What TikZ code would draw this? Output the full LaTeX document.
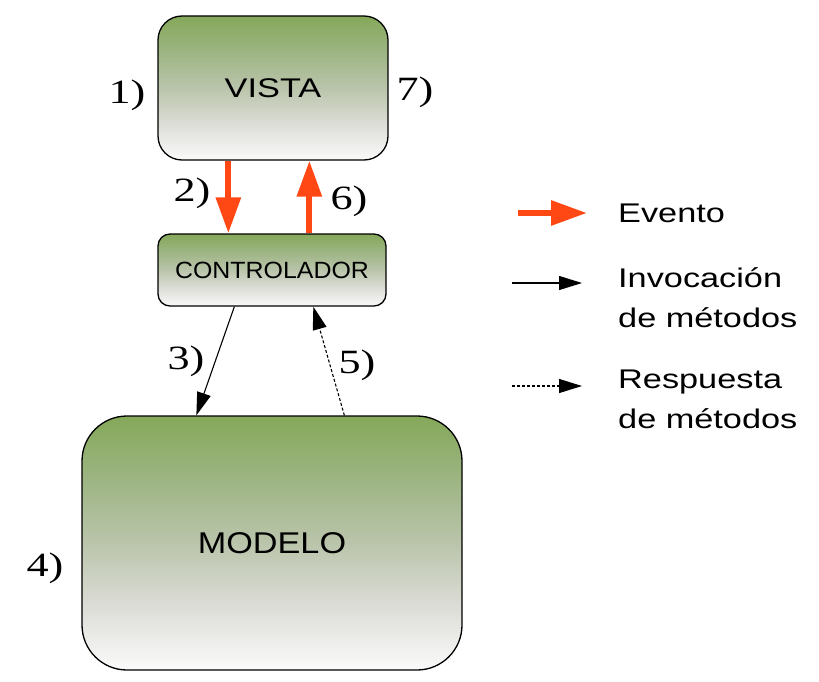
\documentclass[tikz,border=0pt]{standalone}
\usepackage{fontspec}
\usetikzlibrary{arrows.meta}
\newfontfamily\sansA[FakeStretch=1.27]{Liberation Sans}
\newfontfamily\sansB[FakeStretch=1.06]{Liberation Sans}
\newfontfamily\sansC[FakeStretch=1.14]{Liberation Sans}
\newfontfamily\serifw[FakeStretch=1.3]{Liberation Serif}
\definecolor{evred}{RGB}{255,72,20}
\pgfdeclareverticalshading{boxshade}{100bp}{%
  rgb(0bp)=(0.98,0.98,0.98);
  rgb(25bp)=(0.98,0.98,0.98);
  rgb(37bp)=(0.87,0.87,0.85);
  rgb(50bp)=(0.73,0.77,0.67);
  rgb(62bp)=(0.62,0.71,0.52);
  rgb(75bp)=(0.52,0.66,0.35);
  rgb(100bp)=(0.52,0.66,0.35)}
\tikzset{
  box/.style={draw=black, line width=1.3pt, shading=boxshade, inner sep=0pt},
  lbl/.style={font=\fontsize{34}{34}\selectfont\serifw, inner sep=0pt},
  legtext/.style={font=\fontsize{27}{40}\selectfont\sansA, inner sep=0pt, anchor=base west},
  evento/.style={draw=evred, line width=6pt, -{Triangle[length=36pt,width=24pt]}},
  invoc/.style={draw=black, line width=1.1pt, -{Triangle[length=23pt,width=14pt]}},
  resp/.style={draw=black, line width=1.1pt, dash pattern=on 3pt off 2pt, -{Triangle[length=23pt,width=14pt]}}
}
\begin{document}
\begin{tikzpicture}[x=1pt,y=-1pt]
\path[use as bounding box] (0,0) rectangle (819,682);
% boxes
\node[box, minimum width=230pt, minimum height=144pt, rounded corners=24pt,
      font=\fontsize{27}{27}\selectfont\sansA] (vista) at (273,88) {VISTA};
\node[box, minimum width=228pt, minimum height=72pt, rounded corners=12pt,
      font=\fontsize{23.5}{23.5}\selectfont\sansB] (ctrl) at (272,270) {CONTROLADOR};
\node[box, minimum width=380pt, minimum height=254pt, rounded corners=45pt,
      font=\fontsize{30}{30}\selectfont\sansC] (modelo) at (272,543) {MODELO};
% connectors
\draw[evento] ([xshift=71pt]vista.south west) -- ([xshift=71pt]ctrl.north west);
\draw[evento] ([xshift=152pt]ctrl.north west) -- ([xshift=152pt]vista.south west);
\draw[invoc] ([xshift=77pt]ctrl.south west) -- ([xshift=115pt]modelo.north west);
\draw[resp] ([xshift=263pt]modelo.north west) -- ([xshift=156pt]ctrl.south west);
% step labels
\node[lbl] (l1) at (127,95) {1)};
\node[lbl] (l7) at (415,92) {7)};
\node[lbl] (l2) at (192,193) {2)};
\node[lbl] (l6) at (349,201) {6)};
\node[lbl] (l3) at (186,361) {3)};
\node[lbl] (l5) at (357,365) {5)};
\node[lbl] (l4) at (45,568) {4)};
% legend
\coordinate (e1) at (518,213); \coordinate (e2) at (587,213);
\coordinate (i1) at (512,283); \coordinate (i2) at (582,283);
\coordinate (r1) at (512,386); \coordinate (r2) at (582,386);
\draw[evento] (e1) -- (e2);
\draw[invoc] (i1) -- (i2);
\draw[resp] (r1) -- (r2);
\node[legtext] (tev) at (618,222) {Evento};
\node[legtext] (tinv) at (618,287) {\begin{tabular}[t]{@{}l@{}}Invocación\\de métodos\end{tabular}};
\node[legtext] (tresp) at (618,388) {\begin{tabular}[t]{@{}l@{}}Respuesta\\de métodos\end{tabular}};
\end{tikzpicture}
\end{document}
